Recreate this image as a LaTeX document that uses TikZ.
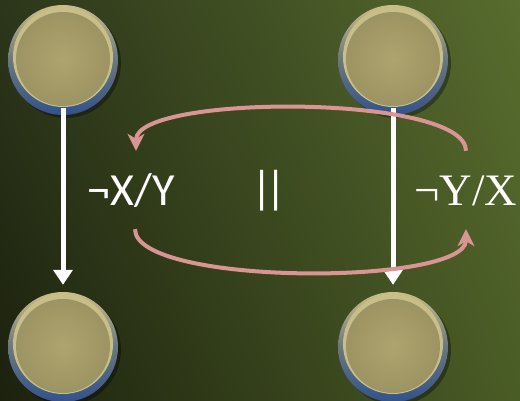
\documentclass[tikz,border=0pt]{standalone}
\usepackage{fontspec}
\setmainfont{Liberation Serif}
\setsansfont{Carlito}
\usetikzlibrary{arrows.meta,positioning,shadings}
\definecolor{bgTL}{RGB}{44,54,26}
\definecolor{bgTR}{RGB}{88,108,46}
\definecolor{bgBL}{RGB}{28,33,14}
\definecolor{bgBR}{RGB}{74,92,38}
\definecolor{knobtan}{RGB}{174,164,110}
\definecolor{knoblight}{RGB}{200,190,136}
\definecolor{rimblue}{RGB}{50,82,140}
\definecolor{swappink}{RGB}{217,149,148}
\tikzset{
    knob/.style={circle, minimum size=110pt, inner sep=0pt, draw=none,
        top color=knoblight, bottom color=rimblue, middle color=rimblue!55!knobtan,
        path picture={
            \fill[knoblight] ([yshift=3pt]path picture bounding box.center) circle (50pt);
            \shade[inner color=knobtan, outer color=knobtan!90!black]
                ([yshift=1pt]path picture bounding box.center) circle (47pt);
        }},
    knobshadow/.style={fill=black, opacity=0.35},
    sidelabel/.style={text=white, inner sep=0pt, minimum height=78pt, text height=31pt, text depth=0pt},
    sanslabel/.style={sidelabel, font=\sffamily\fontsize{46}{46}\selectfont},
    seriflabel/.style={sidelabel, font=\rmfamily\fontsize{45}{45}\selectfont},
    flowarrow/.style={-{Triangle[length=15pt,width=19pt]}, white, line width=5pt},
    swaparrow/.style={-{Stealth[length=17pt,width=17pt,inset=5pt]}, swappink, line width=4pt}
}
\begin{document}
\begin{tikzpicture}[x=1pt,y=-1pt]
    % background
    \shade[upper left=bgTL, upper right=bgTR, lower left=bgBL, lower right=bgBR] (0,0) rectangle (520,401);
    \useasboundingbox (0,0) rectangle (520,401);

    % knobs
    \foreach \px/\py in {63/60, 393/60, 63/347, 393/347}
        \fill[knobshadow] (\px+3,\py+3) circle (55pt);
    \node[knob] (tl) at (63,60) {};
    \node[knob] (tr) at (393,60) {};
    \node[knob] (bl) at (63,347) {};
    \node[knob] (br) at (393,347) {};

    % labels
    \node[sanslabel] (lxy) at (131,190) {¬X/Y};
    \node[sanslabel] (par) at (269,188) {|\kern-8pt|};
    \node[seriflabel] (ryx) at (466,190) {¬Y/X};

    \draw[flowarrow, shorten <=-7pt, shorten >=7pt] (tl) -- (bl);
    \draw[flowarrow, shorten <=-7pt, shorten >=7pt] (tr) -- (br);

    \draw[swaparrow] (ryx.north) .. controls +(0,-57) and +(0,-57) .. ([xshift=5pt]lxy.north);
    \draw[swaparrow] ([xshift=4pt]lxy.south) .. controls +(0,57) and +(0,57) .. (ryx.south);
\end{tikzpicture}
\end{document}
